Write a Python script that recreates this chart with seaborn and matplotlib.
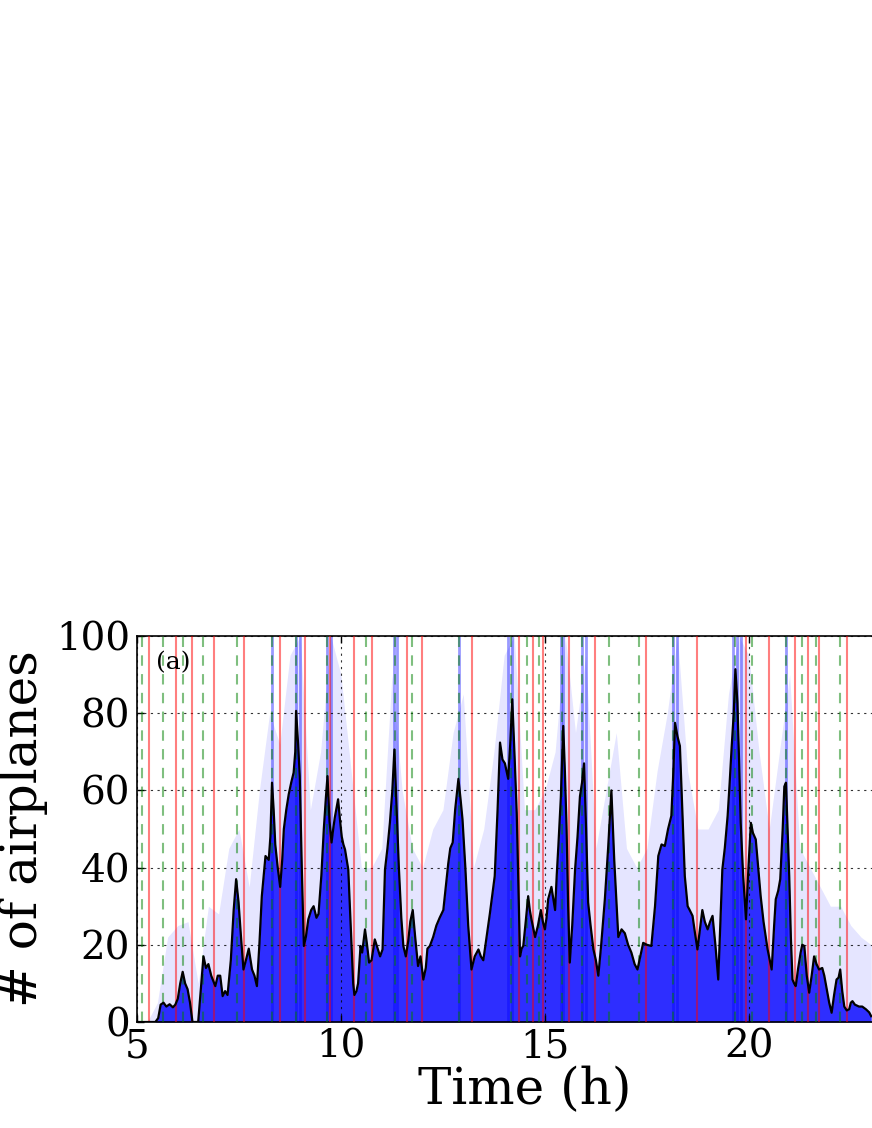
import numpy as np
import pandas as pd
import matplotlib
matplotlib.use("Agg")
import matplotlib.pyplot as plt
import seaborn as sns

# black curve: number of airplanes (hour, count)
hours = [5.0, 5.45, 5.52, 5.58, 5.65, 5.72, 5.8, 5.88, 5.94, 6.0, 6.06, 6.12, 6.18, 6.24, 6.3, 6.36,
         6.5, 6.56, 6.63, 6.69, 6.75, 6.82, 6.92, 6.98, 7.04, 7.1, 7.16, 7.22, 7.3, 7.37, 7.43, 7.49,
         7.55, 7.61, 7.67, 7.74, 7.82, 7.88, 7.94, 8.0, 8.06, 8.15, 8.23, 8.27, 8.31, 8.35, 8.39, 8.45,
         8.51, 8.56, 8.6, 8.66, 8.72, 8.78, 8.84, 8.88, 8.9, 8.95, 8.99, 9.04, 9.09, 9.14, 9.2, 9.27,
         9.33, 9.4, 9.45, 9.52, 9.58, 9.63, 9.67, 9.72, 9.77, 9.81, 9.85, 9.93, 9.98, 10.02, 10.06, 10.1,
         10.18, 10.25, 10.3, 10.33, 10.38, 10.42, 10.48, 10.52, 10.59, 10.64, 10.69, 10.75, 10.83, 10.9,
         10.96, 11.02, 11.08, 11.14, 11.2, 11.26, 11.31, 11.36, 11.42, 11.48, 11.53, 11.59, 11.65, 11.7,
         11.76, 11.82, 11.89, 11.95, 12.02, 12.08, 12.12, 12.18, 12.26, 12.34, 12.42, 12.51, 12.57, 12.63,
         12.68, 12.74, 12.8, 12.88, 12.93, 12.98, 13.05, 13.12, 13.2, 13.28, 13.37, 13.43, 13.49, 13.57,
         13.65, 13.71, 13.77, 13.84, 13.9, 13.96, 14.02, 14.1, 14.15, 14.2, 14.26, 14.31, 14.35, 14.39,
         14.43, 14.47, 14.53, 14.59, 14.63, 14.67, 14.72, 14.76, 14.83, 14.9, 14.95, 15.0, 15.04, 15.08,
         15.16, 15.25, 15.29, 15.33, 15.39, 15.45, 15.49, 15.53, 15.57, 15.61, 15.67, 15.74, 15.8, 15.86,
         15.91, 15.96, 16.01, 16.06, 16.12, 16.19, 16.25, 16.31, 16.38, 16.47, 16.55, 16.63, 16.7, 16.8,
         16.88, 16.96, 17.04, 17.12, 17.2, 17.27, 17.34, 17.41, 17.5, 17.61, 17.7, 17.78, 17.86, 17.94,
         18.02, 18.1, 18.15, 18.19, 18.25, 18.31, 18.37, 18.43, 18.5, 18.55, 18.62, 18.68, 18.74, 18.8,
         18.86, 18.92, 18.99, 19.05, 19.11, 19.18, 19.25, 19.3, 19.35, 19.41, 19.48, 19.53, 19.58, 19.63,
         19.67, 19.72, 19.76, 19.8, 19.86, 19.93, 19.99, 20.05, 20.1, 20.17, 20.23, 20.29, 20.36, 20.46,
         20.56, 20.62, 20.66, 20.72, 20.77, 20.83, 20.87, 20.91, 20.95, 20.99, 21.03, 21.07, 21.11, 21.15,
         21.21, 21.27, 21.31, 21.36, 21.42, 21.48, 21.54, 21.6, 21.66, 21.72, 21.8, 21.85, 21.92, 21.97,
         22.03, 22.09, 22.15, 22.2, 22.24, 22.29, 22.34, 22.4, 22.46, 22.5, 22.54, 22.6, 22.7, 22.78,
         22.87, 22.95, 23.0]
counts = [0, 0, 1, 4.5, 5, 4, 4.6, 3.8, 4.5, 6, 10, 13, 10, 8.5, 5, 0,
          0, 8, 17, 14, 15, 12, 9.3, 12, 12, 6.7, 8, 7, 16, 29, 37, 31,
          22, 13.6, 16, 19, 13.6, 12, 9.3, 20, 32.6, 43, 42, 48, 62, 55, 46, 40,
          35, 42, 50, 55, 59, 62, 64.6, 70, 80.6, 72, 63.7, 40, 19.7, 22, 26.6, 29,
          30, 27, 28, 38, 50, 58, 63.7, 52, 46.5, 50, 53, 57.7, 52, 48, 46, 44.7,
          39.5, 22, 10, 7, 8, 10, 19.7, 18, 24, 20, 15.4, 16, 21.4, 19,
          17, 18.8, 39.5, 45, 51.6, 60, 70.6, 56.8, 40, 27, 19.7, 17, 21, 26,
          29, 22, 14.5, 17, 11, 14, 19, 19.7, 22, 25, 27, 29, 35, 41,
          45, 46.5, 55, 63, 58, 52.5, 40, 25, 13.6, 17, 18.8, 17, 16, 22,
          28, 33, 37.8, 55, 72.4, 68, 67, 63, 72, 83.6, 68, 54, 35, 17,
          19, 19.7, 26, 32.6, 29, 26.6, 24, 22, 25, 29, 26, 24, 27, 31.8,
          35, 29, 38, 45.6, 58, 76.7, 65, 50.8, 30, 15.4, 25, 39.5, 48, 58.5,
          62, 67, 50, 31, 25, 18.8, 16, 12, 20, 31.8, 45, 60, 42, 22,
          24, 23, 20, 18, 15, 13.6, 17, 20.5, 20, 19.7, 30, 43, 46, 45.6,
          50, 53.4, 65, 77.5, 74, 71.5, 55, 37.8, 30, 29, 27.5, 23, 18.8, 24,
          29, 26, 24, 26, 27.5, 20, 11, 25, 39.5, 45, 53.4, 62, 71.5, 80,
          91.4, 82.7, 68, 51.6, 38, 26.6, 40, 51.6, 49, 47.3, 40, 32.6, 26, 18.8,
          13.6, 25, 31.8, 34, 37, 50, 61, 62, 50, 37.8, 22, 11, 10, 9.3,
          14, 18, 20, 19.7, 12, 7.6, 12, 17, 15, 13.6, 14, 12, 8, 5,
          2.4, 7, 11, 11.5, 13.6, 8, 4, 3, 3.3, 5, 5.4, 4.5, 4, 4,
          3.3, 2.5, 1.5]

# faint blue spread (upper reach of the pale blue), every quarter hour
env_hours = [5.0 + 0.25 * i for i in range(73)]
env_counts = [0, 0, 5, 22, 25, 26, 10, 30, 28, 45, 50, 35, 60, 80, 72, 95, 100, 55, 70, 100,
              90, 65, 40, 40, 45, 90, 60, 45, 40, 50, 55, 75, 85, 40, 50, 70, 95, 100, 55, 55,
              60, 70, 100, 75, 95, 45, 60, 75, 45, 40, 45, 65, 80, 100, 65, 50, 50, 55, 85, 100,
              95, 70, 50, 70, 90, 45, 40, 35, 30, 30, 25, 22, 20]

# blue streaks that run to the top of the panel
spike_hours = [8.3, 8.9, 9.0, 9.65, 9.75, 11.3, 11.38, 12.9, 14.1, 14.2, 15.4, 15.45,
               15.9, 16.0, 18.15, 18.25, 19.6, 19.7, 19.8, 20.9]

red_lines = [5.29, 5.96, 6.34, 6.89, 7.63, 8.50, 9.13, 9.73, 10.33, 10.75, 11.61, 11.99, 13.22,
             14.36, 14.71, 14.96, 15.60, 16.23, 17.48, 18.74, 19.93, 20.49, 21.14, 21.46, 21.72, 22.41]
green_lines = [5.12, 5.64, 6.13, 6.62, 7.46, 8.30, 8.91, 9.65, 10.61, 11.32, 11.75, 12.90, 14.16,
               14.55, 14.86, 15.42, 15.91, 16.58, 17.30, 18.14, 19.66, 20.07, 20.91, 21.31, 21.64, 22.23]

xticks = [5, 10, 15, 20]
yticks = [0, 20, 40, 60, 80, 100]

plt.rcParams["font.family"] = ["DejaVu Serif"]
plt.rcParams["xtick.direction"] = "in"
plt.rcParams["ytick.direction"] = "in"
plt.rcParams["xtick.top"] = True
plt.rcParams["ytick.right"] = True

df = pd.DataFrame({"Time": hours, "Count": counts})

fig = plt.figure(figsize=(8.72, 11.28), dpi=100)
ax = fig.add_axes([137 / 872, 106 / 1128, 775 / 872, 386 / 1128])

ax.fill_between(env_hours, 0, env_counts, color="blue", alpha=0.1, linewidth=0, zorder=1)
ax.fill_between(hours, 0, counts, color="blue", alpha=0.8, linewidth=0, zorder=2)
ax.vlines(spike_hours, 0, 100, color="blue", alpha=0.4, linewidth=2, zorder=2)

ax.vlines(red_lines, 0, 100, color="red", alpha=0.5, linewidth=1.5, zorder=3)
ax.vlines(green_lines, 0, 100, color="green", alpha=0.5, linewidth=1.5,
          linestyles=(0, (5, 4)), zorder=3)

sns.lineplot(data=df, x="Time", y="Count", color="black", linewidth=1.6, ax=ax, zorder=5)

ax.set_xlim(5, 24)
ax.set_ylim(0, 100)
ax.set_xticks(xticks)
ax.set_yticks(yticks)
ax.grid(True, color="black", linestyle=(0, (2, 4)), linewidth=0.8, alpha=0.8)
ax.set_axisbelow(False)
ax.tick_params(labelsize=28, length=5, width=1, pad=5)
ax.set_xlabel("Time (h)", fontsize=36, labelpad=0)
ax.set_ylabel("# of airplanes", fontsize=36, labelpad=6)
ax.text(0.025, 0.93, "(a)", transform=ax.transAxes, fontsize=18, va="center")
for s in ax.spines.values():
    s.set_linewidth(1.2)

fig.savefig("out.png", dpi=100)
